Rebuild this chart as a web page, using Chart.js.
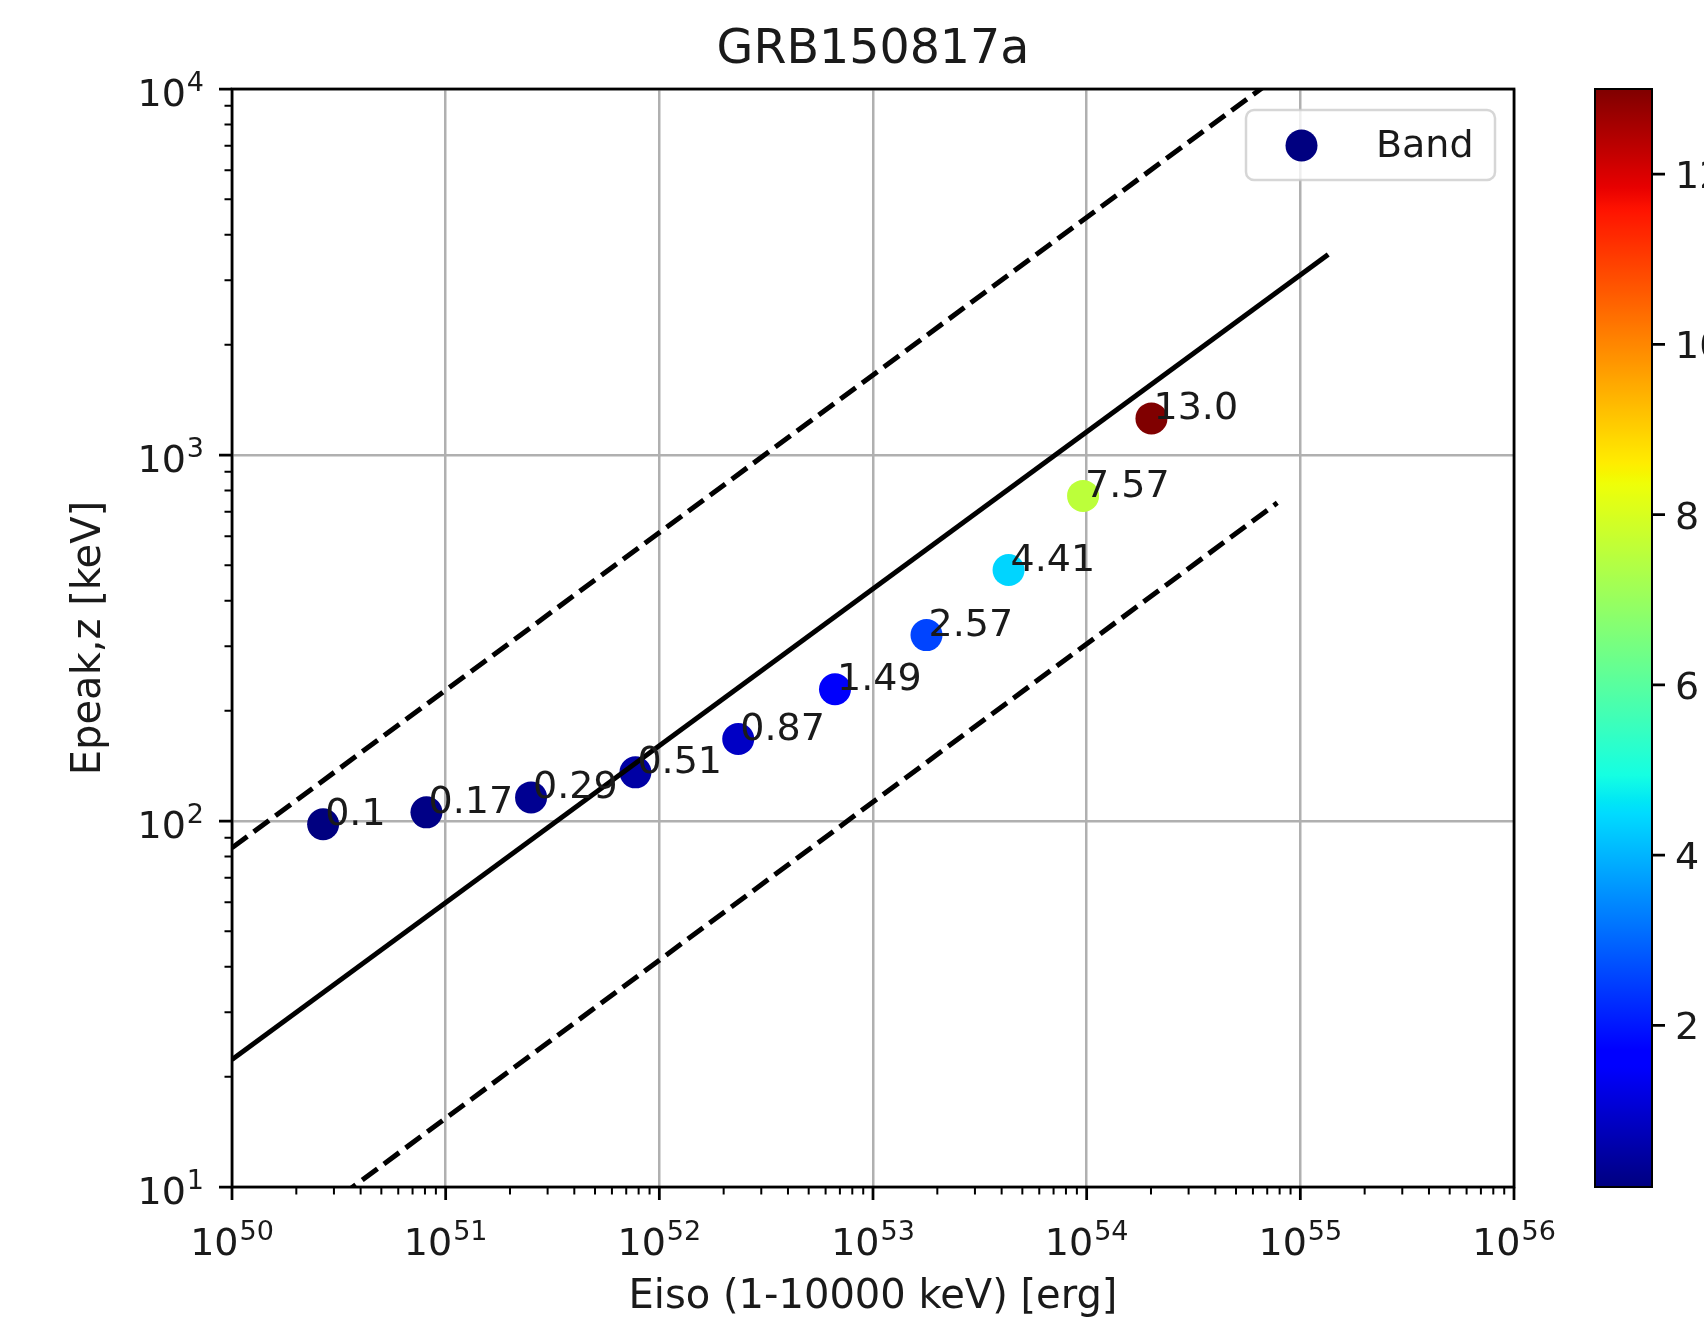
<!DOCTYPE html>
<html><head><meta charset="utf-8">
<script src="https://cdn.jsdelivr.net/npm/chart.js@4/dist/chart.umd.min.js"></script>
<style>html,body{margin:0;padding:0;background:#fff;overflow:hidden}#wrap{width:1704px;height:1328px;position:relative}</style>
</head><body><div id="wrap"><canvas id="c" width="1704" height="1328"></canvas></div>
<script>
// ---- data ----
const chartTitle = 'GRB150817a';
const xTitle = 'Eiso (1-10000 keV) [erg]';
const yTitle = 'Epeak,z [keV]';
const seriesName = 'Band';
const eiso  = [2.67e50, 8.13e50, 2.51e51, 7.73e51, 2.34e52, 6.64e52, 1.78e53, 4.31e53, 9.62e53, 2.01e54];
const epeak = [98, 105.6, 116, 135.8, 167.5, 229, 322, 485, 773, 1259];
const timeLabels = ['0.1','0.17','0.29','0.51','0.87','1.49','2.57','4.41','7.57','13.0'];
const timeValues = [0.1, 0.17, 0.29, 0.51, 0.87, 1.49, 2.57, 4.41, 7.57, 13.0];
const fitX   = [1e50, 1.35e55];
const fitY   = [22.3, 3530];
const bandX  = [1e50, 7.8e54];
const upperY = [84.5, 10800];
const lowerY = [5.7, 740];
const xDecades = [50, 51, 52, 53, 54, 55, 56];
const yDecades = [1, 2, 3, 4];
const cbarTicks = [2, 4, 6, 8, 10, 12];
const cbarMin = 0.1, cbarMax = 13.0;

// ---- jet colormap ----
const JR=[[0,0],[0.35,0],[0.66,1],[0.89,1],[1,0.5]];
const JG=[[0,0],[0.125,0],[0.375,1],[0.64,1],[0.91,0],[1,0]];
const JB=[[0,0.5],[0.11,1],[0.34,1],[0.65,0],[1,0]];
function seg(s,t){for(let i=0;i<s.length-1;i++){const a=s[i],b=s[i+1];if(t>=a[0]&&t<=b[0])return a[1]+(b[1]-a[1])*(t-a[0])/(b[0]-a[0]);}return s[s.length-1][1];}
function jet(t){t=Math.max(0,Math.min(1,t));return 'rgb('+Math.round(255*seg(JR,t))+','+Math.round(255*seg(JG,t))+','+Math.round(255*seg(JB,t))+')';}
const norm = v => (v-cbarMin)/(cbarMax-cbarMin);

const FONT = '"DejaVu Sans", sans-serif';
const TXT = '#1a1a1a';
function dec(e){return Number('1e'+e);}

function drawPow(ctx, base, exp, x, y, align){
  ctx.font = '38px '+FONT;
  const wb = ctx.measureText(base).width;
  ctx.font = '27px '+FONT;
  const we = ctx.measureText(exp).width;
  const w = wb + we + 1;
  let x0 = align==='center' ? x - w/2 : (align==='right' ? x - w : x);
  ctx.textAlign='left'; ctx.textBaseline='alphabetic';
  ctx.font = '38px '+FONT; ctx.fillText(base, x0, y);
  ctx.font = '27px '+FONT; ctx.fillText(exp, x0+wb+1, y-15);
}

const deco = {
  id:'deco',
  afterDatasetsDraw(chart){
    const ctx = chart.ctx, a = chart.chartArea, xs = chart.scales.x, ys = chart.scales.y;
    ctx.save();
    // annotations
    ctx.fillStyle = TXT; ctx.font = '38px '+FONT; ctx.textAlign='left'; ctx.textBaseline='alphabetic';
    timeLabels.forEach((t,i)=>{
      ctx.fillText(t, xs.getPixelForValue(eiso[i])+2, ys.getPixelForValue(epeak[i])+1);
    });
    // spines
    ctx.strokeStyle='#000'; ctx.lineWidth=2.75;
    ctx.strokeRect(a.left, a.top, a.right-a.left, a.bottom-a.top);
    // ticks
    ctx.lineWidth=2.75; ctx.beginPath();
    xDecades.forEach(e=>{const px=xs.getPixelForValue(dec(e)); ctx.moveTo(px,a.bottom); ctx.lineTo(px,a.bottom+13);});
    yDecades.forEach(e=>{const py=ys.getPixelForValue(dec(e)); ctx.moveTo(a.left,py); ctx.lineTo(a.left-13,py);});
    ctx.stroke();
    ctx.lineWidth=2; ctx.beginPath();
    for(let i=0;i<xDecades.length-1;i++) for(let k=2;k<=9;k++){const px=xs.getPixelForValue(k*dec(xDecades[i])); ctx.moveTo(px,a.bottom); ctx.lineTo(px,a.bottom+7.5);}
    for(let i=0;i<yDecades.length-1;i++) for(let k=2;k<=9;k++){const py=ys.getPixelForValue(k*dec(yDecades[i])); ctx.moveTo(a.left,py); ctx.lineTo(a.left-7.5,py);}
    ctx.stroke();
    // tick labels
    ctx.fillStyle = TXT;
    xDecades.forEach(e=>drawPow(ctx,'10',String(e),xs.getPixelForValue(dec(e)),a.bottom+68,'center'));
    yDecades.forEach(e=>drawPow(ctx,'10',String(e),a.left-28,ys.getPixelForValue(dec(e))+17,'right'));
    // axis titles
    ctx.font='40px '+FONT; ctx.textAlign='center'; ctx.textBaseline='middle';
    ctx.fillText(xTitle,(a.left+a.right)/2,1298);
    ctx.save(); ctx.translate(90,(a.top+a.bottom)/2); ctx.rotate(-Math.PI/2); ctx.fillText(yTitle,0,0); ctx.restore();
    // title
    ctx.font='47.5px '+FONT; ctx.textBaseline='alphabetic';
    ctx.fillText(chartTitle,(a.left+a.right)/2,63);
    // legend
    const lx=1246, ly=110, lw=249, lh=70, r=8;
    ctx.beginPath();
    ctx.moveTo(lx+r,ly); ctx.arcTo(lx+lw,ly,lx+lw,ly+lh,r); ctx.arcTo(lx+lw,ly+lh,lx,ly+lh,r); ctx.arcTo(lx,ly+lh,lx,ly,r); ctx.arcTo(lx,ly,lx+lw,ly,r); ctx.closePath();
    ctx.fillStyle='rgba(255,255,255,0.8)'; ctx.fill();
    ctx.strokeStyle='rgba(204,204,204,0.8)'; ctx.lineWidth=2.5; ctx.stroke();
    ctx.fillStyle=jet(0); ctx.beginPath(); ctx.arc(1301.5,145.5,16,0,Math.PI*2); ctx.fill();
    ctx.fillStyle=TXT; ctx.font='38px '+FONT; ctx.textAlign='left'; ctx.fillText(seriesName,1376,157);
    // colorbar
    const cx=1595, cw=57, ct=a.top, cb=a.bottom;
    const g=ctx.createLinearGradient(0,cb,0,ct);
    for(let i=0;i<=256;i++){g.addColorStop(i/256,jet(i/256));}
    ctx.fillStyle=g; ctx.fillRect(cx,ct,cw,cb-ct);
    ctx.strokeStyle='#000'; ctx.lineWidth=2; ctx.strokeRect(cx,ct,cw,cb-ct);
    ctx.lineWidth=2.75; ctx.beginPath();
    const cpy=v=>cb-(v-cbarMin)/(cbarMax-cbarMin)*(cb-ct);
    cbarTicks.forEach(v=>{const py=cpy(v); ctx.moveTo(cx+cw,py); ctx.lineTo(cx+cw+13,py);});
    ctx.stroke();
    ctx.fillStyle=TXT; ctx.font='38px '+FONT; ctx.textAlign='left'; ctx.textBaseline='alphabetic';
    cbarTicks.forEach(v=>ctx.fillText(String(v),cx+cw+23,cpy(v)+14));
    ctx.restore();
  }
};

const decadeTicks = arr => s => { s.ticks = arr.map(e=>({value:dec(e)})); };

new Chart(document.getElementById('c').getContext('2d'), {
  type:'scatter',
  data:{datasets:[
    {label:seriesName, data:eiso.map((x,i)=>({x:x,y:epeak[i]})), backgroundColor:timeValues.map(v=>jet(norm(v))), pointRadius:16, pointHoverRadius:16, borderWidth:0, order:2, clip:false},
    {label:'fit', data:fitX.map((x,i)=>({x:x,y:fitY[i]})), showLine:true, borderColor:'#000', borderWidth:5, pointRadius:0, order:1, clip:0},
    {label:'upper', data:bandX.map((x,i)=>({x:x,y:upperY[i]})), showLine:true, borderColor:'#000', borderWidth:5, borderDash:[19,8], pointRadius:0, order:1, clip:0},
    {label:'lower', data:bandX.map((x,i)=>({x:x,y:lowerY[i]})), showLine:true, borderColor:'#000', borderWidth:5, borderDash:[19,8], pointRadius:0, order:1, clip:0}
  ]},
  options:{
    responsive:false, animation:false, events:[],
    plugins:{legend:{display:false}, tooltip:{enabled:false}, title:{display:false}},
    layout:{padding:{left:0, top:89, right:190, bottom:0}},
    scales:{
      x:{type:'logarithmic', min:1e50, max:1e56, afterFit:s=>{s.height=141;}, afterBuildTicks:decadeTicks(xDecades),
         ticks:{display:false}, grid:{color:'#b0b0b0', lineWidth:2.5, drawTicks:false}, border:{display:false}},
      y:{type:'logarithmic', min:10, max:1e4, afterFit:s=>{s.width=232;}, afterBuildTicks:decadeTicks(yDecades),
         ticks:{display:false}, grid:{color:'#b0b0b0', lineWidth:2.5, drawTicks:false}, border:{display:false}}
    }
  },
  plugins:[deco]
});
</script>
</body></html>
